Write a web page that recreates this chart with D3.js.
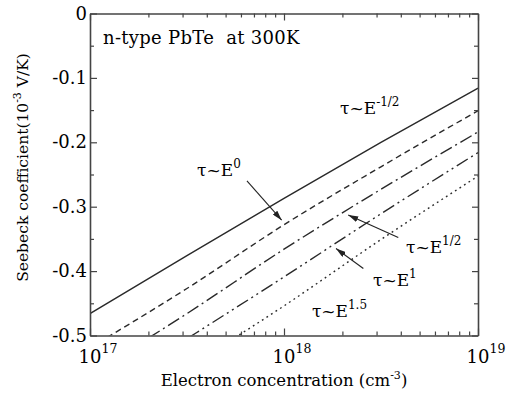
<!DOCTYPE html>
<html>
<head>
<meta charset="utf-8">
<script src="https://cdn.jsdelivr.net/npm/d3@7"></script>
<style>
  body { margin: 0; background: #fff; }
  text { font-family: "DejaVu Serif", serif; fill: #000; white-space: pre; }
</style>
</head>
<body>
<div id="chart"></div>
<script>
// electron concentration (cm^-3) sample points
const concentration = [1e17, 3.16e17, 1e18, 3.16e18, 1e19];
// Seebeck coefficient (10^-3 V/K) for each scattering exponent
const seebeckMinusHalf = [-0.466, -0.376, -0.287, -0.200, -0.116];
const seebeckZero = [-0.519, -0.427, -0.328, -0.238, -0.151];
const seebeckHalf = [-0.560, -0.466, -0.366, -0.273, -0.184];
const seebeckOne = [-0.600, -0.505, -0.409, -0.311, -0.216];
const seebeckOneHalf = [-0.650, -0.551, -0.454, -0.351, -0.2525];
const yTicks = [0, -0.1, -0.2, -0.3, -0.4, -0.5];
const xTicks = [1e17, 1e18, 1e19];

const margin = { top: 13.5, right: 29, bottom: 58.5, left: 90 },
	width = 507 - margin.left - margin.right,
	height = 394 - margin.top - margin.bottom;

const svg = d3
	.select('#chart')
	.append('svg')
	.attr('width', 507)
	.attr('height', 394)
	.append('g')
	.attr('transform', `translate(${margin.left},${margin.top})`);

const x = d3.scaleLog().domain([1e17, 1e19]).range([0, width]);
const y = d3.scaleLinear().domain([-0.5, 0]).range([height, 0]);

svg.append('clipPath')
	.attr('id', 'plotClip')
	.append('rect')
	.attr('width', width)
	.attr('height', height);

// curves
const series = [
	{ values: seebeckMinusHalf, dash: null },
	{ values: seebeckZero, dash: '6,4' },
	{ values: seebeckHalf, dash: '13,4,2,4' },
	{ values: seebeckOne, dash: '13,4,2,4,2,4' },
	{ values: seebeckOneHalf, dash: '1.8,3.6' }
];
const line = d3
	.line()
	.curve(d3.curveMonotoneX)
	.x((d) => x(d[0]))
	.y((d) => y(d[1]));

series.forEach((s) => {
	svg.append('path')
		.datum(concentration.map((c, i) => [c, s.values[i]]))
		.attr('clip-path', 'url(#plotClip)')
		.attr('fill', 'none')
		.attr('stroke', '#2a2a2a')
		.attr('stroke-width', 1.4)
		.attr('stroke-dasharray', s.dash)
		.attr('d', line);
});

// axes (ticks point inward)
const allX = x.ticks();
const isMajorX = (d) => xTicks.includes(d);
const yAll = d3.range(0, 11).map((i) => -i * 0.05);
const isMajorY = (d) => Math.abs(Math.round(d * 10) - d * 10) < 1e-6;

function styleAxis(g) {
	g.select('.domain').attr('stroke', '#444').attr('stroke-width', 1.6);
	g.selectAll('.tick line').attr('stroke', '#444').attr('stroke-width', 1.2);
	g.selectAll('.tick text').remove();
}

svg.append('g')
	.attr('transform', `translate(0,${height})`)
	.call(d3.axisBottom(x).tickValues(allX).tickSizeOuter(0).tickFormat(''))
	.call(styleAxis)
	.selectAll('.tick line')
	.attr('y2', (d) => (isMajorX(d) ? -7 : -4));

svg.append('g')
	.call(d3.axisTop(x).tickValues(allX).tickSizeOuter(0).tickFormat(''))
	.call(styleAxis)
	.selectAll('.tick line')
	.attr('y2', (d) => (isMajorX(d) ? 7 : 4));

svg.append('g')
	.call(d3.axisLeft(y).tickValues(yAll).tickSizeOuter(0).tickFormat(''))
	.call(styleAxis)
	.selectAll('.tick line')
	.attr('x2', (d) => (isMajorY(d) ? 7 : 4));

svg.append('g')
	.attr('transform', `translate(${width},0)`)
	.call(d3.axisRight(y).tickValues(yAll).tickSizeOuter(0).tickFormat(''))
	.call(styleAxis)
	.selectAll('.tick line')
	.attr('x2', (d) => (isMajorY(d) ? -6 : -4));

// y tick labels
svg.selectAll('.ylab')
	.data(yTicks)
	.enter()
	.append('text')
	.attr('x', -3)
	.attr('y', (d) => y(d) + 6)
	.attr('text-anchor', 'end')
	.attr('font-size', 18)
	.text((d) => (d === 0 ? '0' : d.toFixed(1)));

// x tick labels: 10 centred on the tick, exponent as superscript
xTicks.forEach((d) => {
	svg.append('text')
		.attr('x', x(d))
		.attr('y', height + 27)
		.attr('text-anchor', 'middle')
		.attr('font-size', 18)
		.text('10');
	svg.append('text')
		.attr('x', x(d) + 11.5)
		.attr('y', height + 17)
		.attr('font-size', 12.5)
		.text(Math.round(Math.log10(d)));
});

// axis titles
const xt = svg.append('text')
	.attr('x', width / 2)
	.attr('y', height + 50)
	.attr('text-anchor', 'middle')
	.attr('font-size', 16.5);
xt.append('tspan').text('Electron concentration (cm');
xt.append('tspan').attr('dy', -7).attr('font-size', 11).text('-3');
xt.append('tspan').attr('dy', 7).text(')');

const yt = svg.append('text')
	.attr('transform', `translate(${-62},${154}) rotate(-90)`)
	.attr('text-anchor', 'middle')
	.attr('font-size', 15.5);
yt.append('tspan').text('Seebeck coefficient(10');
yt.append('tspan').attr('dy', -7).attr('font-size', 11).text('-3');
yt.append('tspan').attr('dy', 7).text(' V/K)');

// annotations
svg.append('text')
	.attr('x', x(Math.pow(10, 17.067)))
	.attr('y', y(-0.047))
	.attr('font-size', 18)
	.attr('letter-spacing', 0.3)
	.text('n-type PbTe  at 300K');

const labels = [
	{ exp: '-1/2', at: [18.289, -0.156] },
	{ exp: '0', at: [17.552, -0.252] },
	{ exp: '1/2', at: [18.629, -0.372] },
	{ exp: '1', at: [18.459, -0.423] },
	{ exp: '1.5', at: [18.144, -0.471] }
];
labels.forEach((l) => {
	const t = svg.append('text')
		.attr('x', x(Math.pow(10, l.at[0])))
		.attr('y', y(l.at[1]))
		.attr('font-size', 17);
	t.append('tspan').text('τ~E');
	t.append('tspan').attr('dy', -8).attr('font-size', 12).text(l.exp);
});

svg.append('defs')
	.append('marker')
	.attr('id', 'head')
	.attr('viewBox', '0 0 10 6')
	.attr('refX', 10)
	.attr('refY', 3)
	.attr('markerWidth', 10)
	.attr('markerHeight', 6)
	.attr('markerUnits', 'userSpaceOnUse')
	.attr('orient', 'auto')
	.append('path')
	.attr('d', 'M0,0L10,3L0,6Z')
	.attr('fill', '#222');

const arrows = [
	{ from: [17.809, -0.260], to: [17.988, -0.321] },
	{ from: [18.589, -0.348], to: [18.331, -0.313] },
	{ from: [18.409, -0.396], to: [18.268, -0.365] }
];
arrows.forEach((a) => {
	svg.append('line')
		.attr('x1', x(Math.pow(10, a.from[0])))
		.attr('y1', y(a.from[1]))
		.attr('x2', x(Math.pow(10, a.to[0])))
		.attr('y2', y(a.to[1]))
		.attr('stroke', '#222')
		.attr('stroke-width', 1.1)
		.attr('marker-end', 'url(#head)');
});
</script>
</body>
</html>
